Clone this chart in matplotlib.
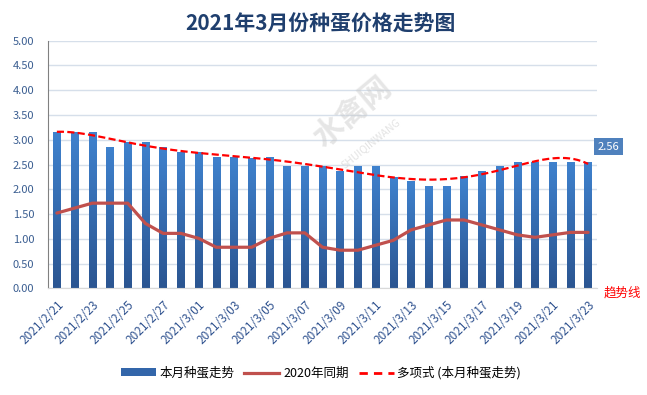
import numpy as np
import matplotlib
matplotlib.use('Agg')
import matplotlib.pyplot as plt
import matplotlib.transforms as mtransforms
from matplotlib.colors import LinearSegmentedColormap
from matplotlib.lines import Line2D
from matplotlib.patches import Patch

plt.rcParams['font.family'] = ['Noto Sans CJK SC', 'DejaVu Sans']

dates = ['2021/2/21', '2021/2/22', '2021/2/23', '2021/2/24', '2021/2/25', '2021/2/26',
         '2021/2/27', '2021/2/28', '2021/3/01', '2021/3/02', '2021/3/03', '2021/3/04',
         '2021/3/05', '2021/3/06', '2021/3/07', '2021/3/08', '2021/3/09', '2021/3/10',
         '2021/3/11', '2021/3/12', '2021/3/13', '2021/3/14', '2021/3/15', '2021/3/16',
         '2021/3/17', '2021/3/18', '2021/3/19', '2021/3/20', '2021/3/21', '2021/3/22',
         '2021/3/23']
price_2021 = [3.16, 3.15, 3.16, 2.86, 2.96, 2.96, 2.86, 2.76, 2.75, 2.66, 2.66, 2.64,
              2.66, 2.46, 2.46, 2.46, 2.36, 2.46, 2.46, 2.25, 2.16, 2.06, 2.06, 2.26,
              2.36, 2.46, 2.56, 2.56, 2.56, 2.56, 2.56]
price_2020 = [1.52, 1.62, 1.72, 1.72, 1.72, 1.31, 1.11, 1.11, 1.01, 0.83, 0.83, 0.83,
              1.01, 1.12, 1.12, 0.83, 0.77, 0.77, 0.87, 0.97, 1.18, 1.28, 1.38, 1.38,
              1.28, 1.18, 1.08, 1.03, 1.08, 1.13, 1.13]
yticks = [0, 0.5, 1, 1.5, 2, 2.5, 3, 3.5, 4, 4.5, 5]

fig = plt.figure(figsize=(6.47, 3.95), dpi=100)
ax = fig.add_axes([0.0742, 0.270, 0.8485, 0.627])
x = np.arange(1, len(dates) + 1)

bars = ax.bar(x, price_2021, width=0.42, color='#3A72BC', zorder=2)
cmap = LinearSegmentedColormap.from_list('g', ['#2B5591', '#3F82CE'])
grad = np.linspace(0, 1, 256).reshape(-1, 1)
for b in bars:
    x0, y0 = b.get_x(), b.get_y()
    w, h = b.get_width(), b.get_height()
    im = ax.imshow(grad, cmap=cmap, aspect='auto', extent=[x0, x0 + w, y0, y0 + h],
                   origin='lower', zorder=2.1, interpolation='bilinear')
    im.set_clip_path(b)

ax.plot(x, price_2020, color='#C0504D', lw=2.3, zorder=3, solid_joinstyle='round',
        solid_capstyle='round')

poly = np.polynomial.Polynomial.fit(x, price_2021, 6)
xf = np.linspace(1, len(dates), 400)
ax.plot(xf, poly(xf), color='#FF0000', lw=1.6, ls=(0, (3.2, 1.5)), zorder=4)

ax.set_xlim(0.5, len(dates) + 0.5)
ax.set_ylim(0, 5)
ax.set_yticks(yticks)
ax.set_yticklabels([f'{v:.2f}' for v in yticks], color='#3B5E91', fontsize=8)
ax.set_xticks(x[::2])
ax.set_xticklabels(dates[::2], rotation=45, ha='right', va='top', rotation_mode='anchor',
                   color='#2F528F', fontsize=8.5)
offset = mtransforms.ScaledTranslation(4 / 100, -4 / 100, fig.dpi_scale_trans)
for lab in ax.get_xticklabels():
    lab.set_transform(lab.get_transform() + offset)
ax.tick_params(axis='both', length=0)
ax.tick_params(axis='x', pad=7)
ax.tick_params(axis='y', pad=10)
ax.yaxis.grid(True, color='#D6DFEA', lw=1)
ax.set_axisbelow(True)
for s in ['top', 'right']:
    ax.spines[s].set_visible(False)
ax.spines['left'].set_color('#808080')
ax.spines['bottom'].set_color('#D9D9D9')

# watermark
fig.text(353 / 647, 1 - 112 / 395, '水禽网', fontsize=22, fontweight='bold', color='#C8C8C8',
         alpha=0.45, rotation=40, ha='center', va='center', zorder=1)
fig.text(371 / 647, 1 - 143 / 395, 'SHUIQINWANG', fontsize=7.5, color='#C8C8C8', alpha=0.5,
         rotation=39, ha='center', va='center', zorder=1)

ax.text(32.14, 2.86, '2.56', ha='center', va='center', color='white', fontsize=8,
        bbox=dict(boxstyle='square,pad=0.3', fc='#4F81BD', ec='none'), clip_on=False,
        zorder=5)

fig.text(0.4946, 0.939, '2021年3月份种蛋价格走势图', fontsize=15, fontweight='bold',
         color='#1F3F6E', ha='center', va='center')
fig.text(622 / 647, 1 - 293 / 395, '趋势线', color='#FF0000', fontsize=9,
         ha='center', va='center')

handles = [Patch(facecolor='#3366AA', edgecolor='none'),
           Line2D([0], [0], color='#C0504D', lw=2.3),
           Line2D([0], [0], color='#FF0000', lw=2.0, ls=(0, (3.0, 2.2)))]
labels = ['本月种蛋走势', '2020年同期', '多项式 (本月种蛋走势)']
fig.legend(handles, labels, loc='center', bbox_to_anchor=(0.496, 1 - 373 / 395), ncol=3,
           frameon=False, fontsize=9, handlelength=2.8, handleheight=0.6,
           columnspacing=0.8, handletextpad=0.3)

fig.savefig('out.png', dpi=100)
